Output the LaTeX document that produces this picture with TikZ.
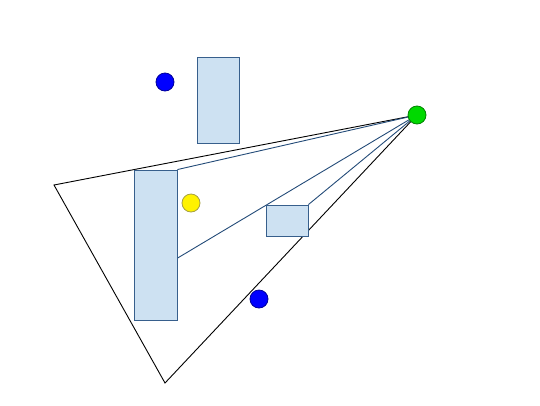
\documentclass[tikz,border=0pt]{standalone}
\usetikzlibrary{calc,backgrounds}
\definecolor{boxfill}{RGB}{205,225,242}
\definecolor{boxdraw}{RGB}{55,95,140}
\definecolor{rayblue}{RGB}{35,75,120}
\tikzset{
  box/.style={draw=boxdraw, fill=boxfill, line width=0.9pt, inner sep=0pt, minimum width=#1},
  dot/.style={circle, draw=#1!60!black, fill=#1, line width=0.8pt, inner sep=0pt, minimum size=18pt},
  ray/.style={draw=rayblue, line width=0.9pt},
  edge/.style={draw=black, line width=0.9pt}
}
\begin{document}
\begin{tikzpicture}[x=1pt,y=-1pt]
\useasboundingbox (0,0) rectangle (540,405);
\coordinate (A) at (54,185);
\coordinate (B) at (165,383);
\node[box=43pt, minimum height=150pt] (tall) at (155.5,245) {};
\node[box=42pt, minimum height=86pt] (top) at (218,100) {};
\node[box=42pt, minimum height=31pt] (small) at (287,220.5) {};
\node[dot=green!85!black] (g) at (417,115) {};
\node[dot=blue] (b1) at (165,82) {};
\node[dot=yellow] (y) at (191,203) {};
\node[dot=blue] (b2) at (259,299) {};
\coordinate (mid) at ($(tall.north east)!0.587!(tall.south east)$);
\begin{scope}[on background layer]
\draw[edge] (A) -- (g.center) -- (B) -- cycle;
\draw[ray] (tall.north east) -- (g.center);
\draw[ray] (mid) -- (g.center);
\draw[ray] (small.north east) -- (g.center);
\end{scope}
\end{tikzpicture}
\end{document}
